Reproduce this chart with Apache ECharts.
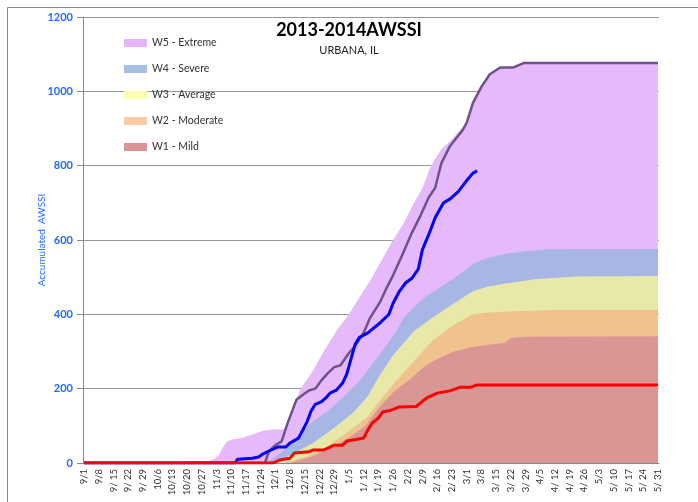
<!DOCTYPE html>
<html>
<head>
    <meta charset="utf-8">
    <title>2013-2014AWSSI</title>
    <script src="https://cdn.jsdelivr.net/npm/echarts@6/dist/echarts.min.js"></script>
    <style>
        html, body { margin: 0; padding: 0; background: #fff; }
        #chart1 { width: 698px; height: 502px; }
    </style>
</head>
<body>
<div id="chart1"></div>
<script>
    // season days 9/1 .. 5/31 (template keeps 2/29)
    var monthLens = [[9, 30], [10, 31], [11, 30], [12, 31], [1, 31], [2, 29], [3, 31], [4, 30], [5, 31]];
    var days = [];
    monthLens.forEach(function (m) {
        for (var d = 1; d <= m[1]; d++) days.push(m[0] + '/' + d);
    });

    var yTicks = [0, 200, 400, 600, 800, 1000, 1200];

    // accumulated tops of each severity band
    var w5Top = [['9/1', 0], ['10/13', 0], ['10/20', 4], ['10/29', 5], ['11/1', 8], ['11/4', 20], ['11/6', 42], ['11/8', 58],
        ['11/11', 64], ['11/15', 67], ['11/19', 75], ['11/22', 81], ['11/25', 87], ['11/30', 90], ['12/5', 91], ['12/7', 115],
        ['12/9', 145], ['12/13', 200], ['12/18', 240], ['12/24', 300], ['12/30', 355], ['1/5', 400], ['1/10', 445],
        ['1/15', 490], ['1/20', 540], ['1/26', 600], ['1/31', 645], ['2/5', 700], ['2/9', 740], ['2/13', 800], ['2/18', 845],
        ['2/22', 865], ['2/26', 890], ['3/1', 915], ['3/4', 969], ['3/8', 1012], ['3/12', 1046], ['3/17', 1064],
        ['3/23', 1064], ['3/28', 1076], ['5/31', 1076]];
    var w4Top = [['9/1', 0], ['11/26', 0], ['11/30', 12], ['12/7', 43], ['12/13', 80], ['12/19', 112], ['12/26', 140],
        ['1/2', 175], ['1/10', 220], ['1/16', 265], ['1/22', 310], ['1/27', 350], ['1/31', 390], ['2/5', 420], ['2/10', 445],
        ['2/18', 475], ['2/26', 505], ['3/4', 535], ['3/9', 548], ['3/19', 562], ['3/29', 570], ['4/8', 575], ['5/31', 576]];
    var w3Top = [['9/1', 0], ['11/30', 0], ['12/5', 12], ['12/10', 27], ['12/19', 54], ['12/29', 95], ['1/7', 135],
        ['1/14', 180], ['1/19', 230], ['1/26', 290], ['2/5', 355], ['2/14', 392], ['2/24', 430], ['3/4', 462], ['3/11', 475],
        ['3/19', 482], ['4/3', 495], ['4/23', 502], ['5/31', 503]];
    var w2Top = [['9/1', 0], ['12/4', 0], ['12/10', 8], ['12/16', 18], ['12/26', 45], ['1/6', 90], ['1/14', 125],
        ['1/20', 170], ['1/28', 225], ['2/5', 275], ['2/14', 330], ['2/24', 372], ['3/4', 400], ['3/11', 405], ['3/24', 408],
        ['4/13', 412], ['5/31', 412]];
    var w1Top = [['9/1', 0], ['12/8', 0], ['12/13', 8], ['12/19', 18], ['12/29', 45], ['1/6', 72], ['1/13', 100],
        ['1/16', 125], ['1/21', 160], ['1/27', 195], ['2/3', 225], ['2/10', 260], ['2/16', 280], ['2/24', 300], ['3/4', 312],
        ['3/11', 318], ['3/19', 323], ['3/22', 336], ['3/29', 340], ['5/31', 341]];

    // season lines
    var redLine = [['9/1', 0], ['11/30', 0], ['12/3', 8], ['12/8', 13], ['12/10', 27], ['12/17', 30], ['12/19', 35],
        ['12/24', 35], ['12/27', 43], ['12/29', 48], ['1/2', 48], ['1/4', 59], ['1/9', 64], ['1/12', 67], ['1/14', 89],
        ['1/16', 107], ['1/19', 121], ['1/21', 137], ['1/25', 142], ['1/29', 151], ['2/6', 152], ['2/11', 175], ['2/16', 188],
        ['2/22', 194], ['2/27', 204], ['3/3', 204], ['3/6', 210], ['5/31', 210]];
    var blueLine = [['9/1', 0], ['11/12', 0], ['11/13', 10], ['11/20', 13], ['11/23', 16], ['11/25', 24], ['11/29', 35],
        ['12/2', 43], ['12/6', 43], ['12/8', 54], ['12/12', 67], ['12/14', 88], ['12/16', 110], ['12/18', 140],
        ['12/20', 158], ['12/23', 165], ['12/25', 175], ['12/27', 188], ['12/30', 196], ['1/2', 215], ['1/4', 240],
        ['1/6', 280], ['1/8', 320], ['1/10', 338], ['1/14', 350], ['1/20', 378], ['1/24', 400], ['1/26', 430], ['1/29', 462],
        ['2/1', 485], ['2/4', 497], ['2/7', 522], ['2/9', 575], ['2/12', 615], ['2/15', 660], ['2/19', 700], ['2/22', 710],
        ['2/26', 730], ['3/1', 760], ['3/4', 780], ['3/6', 786]];
    var purpleLine = [['9/1', 0], ['11/26', 0], ['11/28', 32], ['12/1', 48], ['12/4', 58], ['12/7', 110], ['12/11', 170],
        ['12/14', 183], ['12/17', 195], ['12/20', 200], ['12/23', 223], ['12/26', 242], ['12/29', 258], ['1/1', 263],
        ['1/5', 296], ['1/8', 315], ['1/12', 350], ['1/15', 390], ['1/20', 435], ['1/23', 472], ['1/26', 505], ['1/30', 555],
        ['2/4', 620], ['2/8', 665], ['2/12', 715], ['2/15', 740], ['2/18', 807], ['2/22', 852], ['2/28', 895], ['3/1', 915],
        ['3/4', 969], ['3/8', 1012], ['3/12', 1046], ['3/17', 1064], ['3/23', 1064], ['3/28', 1076], ['5/31', 1076]];

    var bands = [
        {name: 'W5 - Extreme', data: w5Top, fill: '#E6B9FA', key: '#E5B3FF'},
        {name: 'W4 - Severe', data: w4Top, fill: '#A8B6E6', key: '#A6BFE8'},
        {name: 'W3 - Average', data: w3Top, fill: '#E8E9A8', key: '#FFFFB3'},
        {name: 'W2 - Moderate', data: w2Top, fill: '#EFC28E', key: '#FACBA5'},
        {name: 'W1 - Mild', data: w1Top, fill: '#D99695', key: '#DA9694'}
    ];

    var series = bands.map(function (b) {
        return {
            name: b.name, type: 'line', data: b.data, showSymbol: false, symbol: 'none',
            itemStyle: {color: b.key},
            lineStyle: {width: 0},
            areaStyle: {color: b.fill, opacity: 1}
        };
    });
    [[purpleLine, '#6E5289', 2.5], [blueLine, '#0000FF', 3], [redLine, '#FF0000', 3]].forEach(function (l, i) {
        series.push({
            type: 'line', data: l[0], symbol: 'none', z: 5 + i,
            lineStyle: {color: l[1], width: l[2]}
        });
    });

    var myChart = echarts.init(document.getElementById('chart1'));
    var option = {
        animation: false,
        textStyle: {fontFamily: 'Lato'},
        title: {
            text: '2013-2014AWSSI', subtext: 'URBANA, IL', left: 'center', top: 16, itemGap: 6,
            textStyle: {fontSize: 18, fontWeight: 'bold', color: '#000', fontFamily: 'Lato'},
            subtextStyle: {fontSize: 11, color: '#222', fontFamily: 'Lato'}
        },
        legend: {
            orient: 'vertical', left: 119, top: 32, itemWidth: 23, itemHeight: 8, itemGap: 14,
            icon: 'rect',
            data: bands.map(function (b) { return b.name; }),
            textStyle: {fontSize: 10.5, color: '#333', fontFamily: 'Lato', lineHeight: 12}
        },
        grid: {left: 83, right: 39, top: 17, bottom: 39, containLabel: false},
        xAxis: {
            type: 'category', data: days, boundaryGap: true,
            axisLine: {lineStyle: {color: '#888'}},
            axisTick: {interval: 0, length: 3, lineStyle: {color: '#aaa'}},
            axisLabel: {
                interval: 6, rotate: 90, fontSize: 9.5, color: '#333', margin: 6,
                formatter: function (v) {
                    var p = v.split('/');
                    return (p[0].length == 1 && p[1].length == 2) ? p[0] + '/ ' + p[1] : v;
                }
            }
        },
        yAxis: {
            type: 'value', min: yTicks[0], max: yTicks[yTicks.length - 1], interval: 200,
            name: 'Accumulated  AWSSI', nameLocation: 'middle', nameGap: 36, nameMoveOverlap: false,
            nameTextStyle: {color: '#1F6BFF', fontSize: 10, fontFamily: 'Lato'},
            axisLine: {show: true, lineStyle: {color: '#888'}},
            axisTick: {show: true, length: 6, lineStyle: {color: '#888'}},
            axisLabel: {
                color: '#1F6BFF', fontWeight: 'bold', fontSize: 11, margin: 10,
                formatter: function (v) { return String(v); }
            },
            splitLine: {lineStyle: {color: '#999'}}
        },
        graphic: [{
            type: 'rect', shape: {x: 7.5, y: 7.5, width: 720, height: 520},
            style: {fill: 'none', stroke: '#888', lineWidth: 1}, silent: true
        }],
        series: series
    };
    myChart.setOption(option);
</script>
</body>
</html>
